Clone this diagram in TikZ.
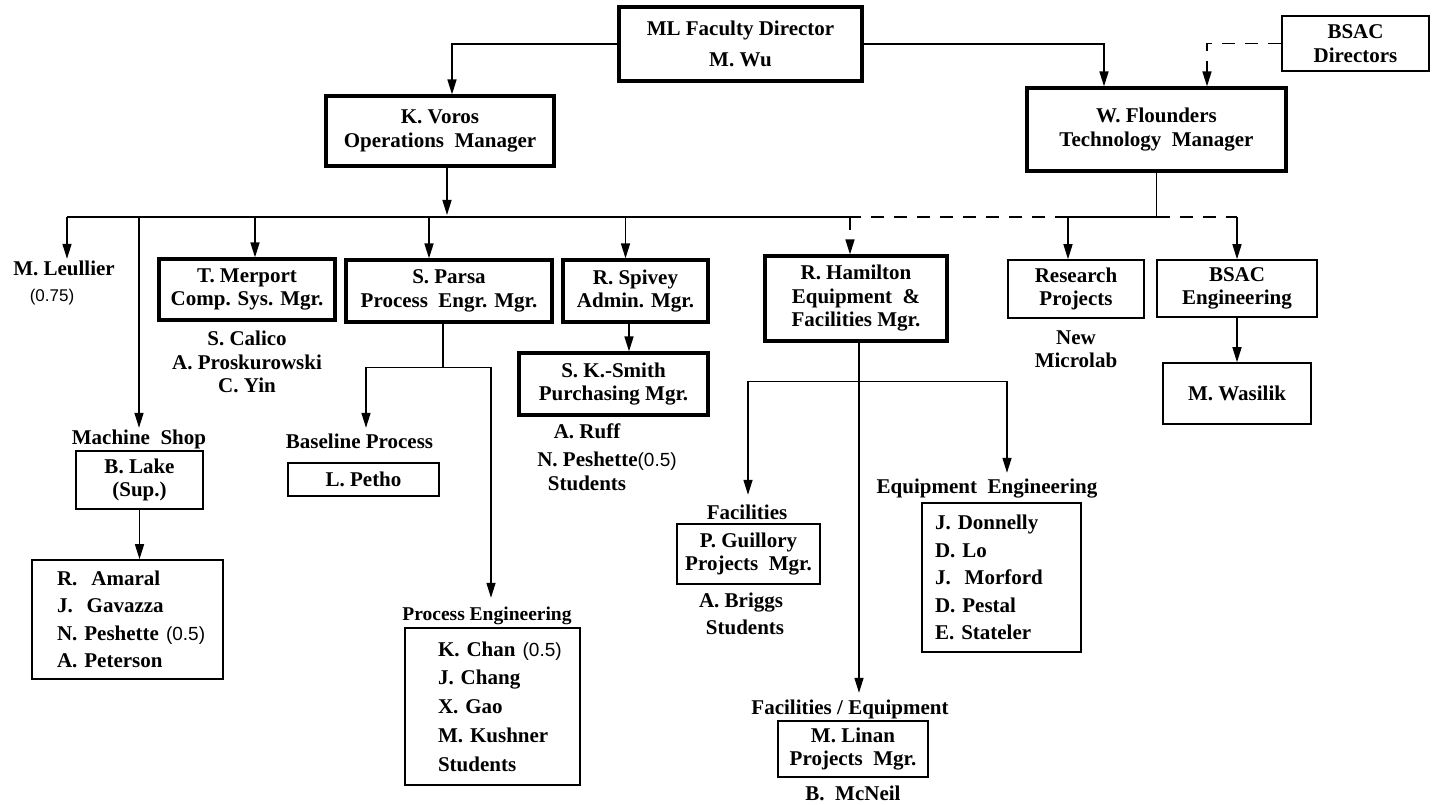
\documentclass[tikz,border=0pt]{standalone}
\usepackage{fontspec}
\setmainfont{Liberation Serif}
\newfontfamily\numfamily{Liberation Sans}
\newcommand\numtxt[1]{{\numfamily\mdseries\fontsize{19}{23}\selectfont #1}}
\newcommand\numsmall[1]{{\numfamily\mdseries\fontsize{17}{21}\selectfont #1}}
\usetikzlibrary{arrows.meta,calc}
\begin{document}
\begin{tikzpicture}[x=1pt,y=-1pt,
  every node/.style={font=\bfseries\fontsize{21}{23.5}\selectfont, inner sep=0pt},
  thickbox/.style={draw, line width=3.2pt, align=center},
  thinbox/.style={draw, line width=1.6pt, align=center},
  listbox/.style={draw, line width=1.6pt, align=left},
  lbl/.style={align=center, inner sep=1pt, text height=15pt, text depth=5pt},
  mlbl/.style={align=center, inner sep=1pt},
  conn/.style={line width=1.5pt},
  arr/.style={conn, -{Triangle[width=9pt,length=15pt]}},
  dashline/.style={conn, dash pattern=on 13pt off 10pt},
  darr/.style={dashline, -{Triangle[width=9pt,length=15pt]}},
]
\useasboundingbox (0,0) rectangle (1435,805);
\fill[white] (0,0) rectangle (1435,805);

% ---- boxes ----
\node[thickbox, minimum width=243pt, minimum height=74pt] (ml) at (740.5,44) {ML Faculty Director\\[7.5pt]M. Wu};
\node[thickbox, minimum width=228pt, minimum height=70pt] (voros) at (440,131) {K. Voros\\Operations~~Manager};
\node[thickbox, minimum width=259pt, minimum height=83pt] (flounders) at (1156.5,129.5) {W. Flounders\\Technology~~Manager};
\node[thinbox, minimum width=147pt, minimum height=55pt] (bsacdir) at (1355.5,43.5) {BSAC\\Directors};
\node[thickbox, minimum width=176pt, minimum height=61pt] (merport) at (247,289.5) {T. Merport\\Comp. Sys. Mgr.};
\node[thickbox, minimum width=206pt, minimum height=62pt] (parsa) at (449,291) {S. Parsa\\Process~~Engr. Mgr.};
\node[thickbox, minimum width=145pt, minimum height=62pt] (spivey) at (635.5,291) {R. Spivey\\Admin. Mgr.};
\node[thickbox, minimum width=189pt, minimum height=62pt] (smith) at (613.5,384) {S. K.-Smith\\Purchasing Mgr.};
\node[thickbox, minimum width=182pt, minimum height=85pt] (hamilton) at (856,298.5) {R. Hamilton\\Equipment~~\&\\Facilities Mgr.};
\node[thinbox, minimum width=136pt, minimum height=58pt] (research) at (1076,289) {Research\\Projects};
\node[thinbox, minimum width=160pt, minimum height=57pt] (bsaceng) at (1237,288.5) {BSAC\\Engineering};
\node[thinbox, minimum width=148pt, minimum height=61pt] (wasilik) at (1237,393.5) {M. Wasilik};
\node[thinbox, minimum width=127pt, minimum height=58pt] (lake) at (139.5,480) {B. Lake\\(Sup.)};
\node[listbox, minimum height=119pt, text width=141pt, inner xsep=25pt,
      font=\bfseries\fontsize{21}{27.5}\selectfont] (shopstaff) at (127.5,619.5)
  {\mbox{R.~~Amaral}\\\mbox{J.~~Gavazza}\\\mbox{N. Peshette~\numtxt{(0.5)}}\\\mbox{A. Peterson}};
\node[thinbox, minimum width=151pt, minimum height=33pt] (petho) at (363.5,479.5) {L. Petho};
\node[listbox, minimum height=157pt, text width=109pt, inner xsep=33pt,
      font=\bfseries\fontsize{21}{28.75}\selectfont] (procstaff) at (492.5,706.5)
  {\mbox{K. Chan \numtxt{(0.5)}}\\\mbox{J. Chang}\\\mbox{X. Gao}\\\mbox{M. Kushner}\\\mbox{Students}};
\node[thinbox, minimum width=143pt, minimum height=60pt] (guillory) at (748.5,554) {P. Guillory\\Projects~~Mgr.};
\node[listbox, minimum height=149pt, text width=133pt, inner xsep=13pt,
      font=\bfseries\fontsize{21}{27.5}\selectfont] (eqstaff) at (1001.5,577.5)
  {\mbox{J. Donnelly}\\\mbox{D. Lo}\\\mbox{J.~~Morford}\\\mbox{D. Pestal}\\\mbox{E. Stateler}};
\node[thinbox, minimum width=150pt, minimum height=56pt] (linan) at (853,749) {M. Linan\\Projects~~Mgr.};

% ---- free labels ----
\node[lbl] (leullier) at (64,270) {M. Leullier};
\node[lbl] (leufrac) at (52,296) {\numsmall{(0.75)}};
\node[mlbl] (merstaff) at (247,362) {S. Calico\\A. Proskurowski\\C. Yin};
\node[lbl] (shoplbl) at (139,439) {Machine~~Shop};
\node[lbl] (baselbl) at (359.5,443) {Baseline Process};
\node[lbl, font=\bfseries\fontsize{19.5}{23}\selectfont] (proclbl) at (487,615) {Process Engineering};
\node[lbl] (ruff) at (587,433) {A. Ruff};
\node[lbl] (pesh) at (607,461) {N. Peshette\numtxt{(0.5)}};
\node[lbl] (studs1) at (587,485) {Students};
\node[lbl] (faclbl) at (747,514) {Facilities};
\node[lbl] (briggs) at (741,602) {A. Briggs};
\node[lbl] (studs2) at (745,629) {Students};
\node[lbl] (eqlbl) at (987,488) {Equipment~~Engineering};
\node[lbl] (felbl) at (850,709) {Facilities / Equipment};
\node[lbl] (mcneil) at (853,795) {B.~~McNeil};
\node[mlbl] (microlab) at (1076,349) {New\\Microlab};

% ---- connectors from the top ----
\coordinate (vtop) at ($(voros.north)+(12,0)$);
\draw[arr] (ml.west) -| (vtop);
\coordinate (ftop) at ($(flounders.north)+(-52.5,0)$);
\draw[arr] (ml.east) -| (ftop);
\coordinate (fdtop) at ($(flounders.north)+(50.5,0)$);
\draw[darr] (bsacdir.west) -| (fdtop);

% ---- Voros bus ----
\coordinate (busL) at (67,217);
\coordinate (busH) at (850,217);
\coordinate (vbus) at (447,215);
\draw[arr] (voros.south -| vbus) -- (vbus);
\draw[conn] (busL) -- (busH);
\draw[arr] (busL) -- (busL |- leullier.north);
\draw[arr] (busL -| shoplbl) -- (shoplbl.north);
\coordinate (mtop) at ($(merport.north)+(8,0)$);
\draw[arr] (mtop |- busL) -- (mtop);
\coordinate (ptop) at ($(parsa.north)+(-20,0)$);
\draw[arr] (ptop |- busL) -- (ptop);
\coordinate (sptop) at ($(spivey.north)+(-10,0)$);
\draw[arr] (sptop |- busL) -- (sptop);
\coordinate (htop) at ($(hamilton.north)+(-6,0)$);
\draw[darr] (busH) -- (htop);

% ---- Flounders bus ----
\coordinate (fj) at (flounders.south |- busL);
\draw[conn] (flounders.south) -- (fj);
\coordinate (rtop) at ($(research.north)+(-8,0)$);
\draw[conn] (fj) -- (rtop |- busL);
\draw[arr] (rtop |- busL) -- (rtop);
\draw[dashline] (rtop |- busL) -- (busH);
\draw[dashline] (fj) -- (bsaceng.north |- busL);
\draw[arr] (bsaceng.north |- busL) -- (bsaceng.north);
\draw[arr] (bsaceng.south) -- (wasilik.north);

% ---- Spivey to Smith ----
\coordinate (ss) at ($(spivey.south)+(-6.5,0)$);
\draw[arr] (ss) -- (ss |- smith.north);

% ---- Parsa ----
\coordinate (pb) at ($(parsa.south)+(-6,0)$);
\coordinate (pj) at ($(pb)+(0,44)$);
\draw[conn] (pb) -- (pj);
\coordinate (bl) at ($(baselbl.north)+(6.5,-4)$);
\coordinate (pl) at ($(proclbl.north)+(4,-6)$);
\draw[arr] (pj) -| (bl);
\draw[arr] (pj) -| (pl);

% ---- Lake ----
\draw[arr] (lake.south) -- (lake.south |- shopstaff.north);

% ---- Hamilton ----
\coordinate (hb) at ($(hamilton.south)+(3,0)$);
\coordinate (fe) at ($(felbl.north)+(0,-5)$);
\draw[arr] (hb) -- (hb |- fe);
\coordinate (hj) at ($(hb)+(0,39)$);
\coordinate (fl) at ($(faclbl.north)+(1,-8)$);
\coordinate (el) at ($(eqlbl.north)+(20,-4)$);
\draw[arr] (hj) -| (fl);
\draw[arr] (hj) -| (el);
\end{tikzpicture}
\end{document}
